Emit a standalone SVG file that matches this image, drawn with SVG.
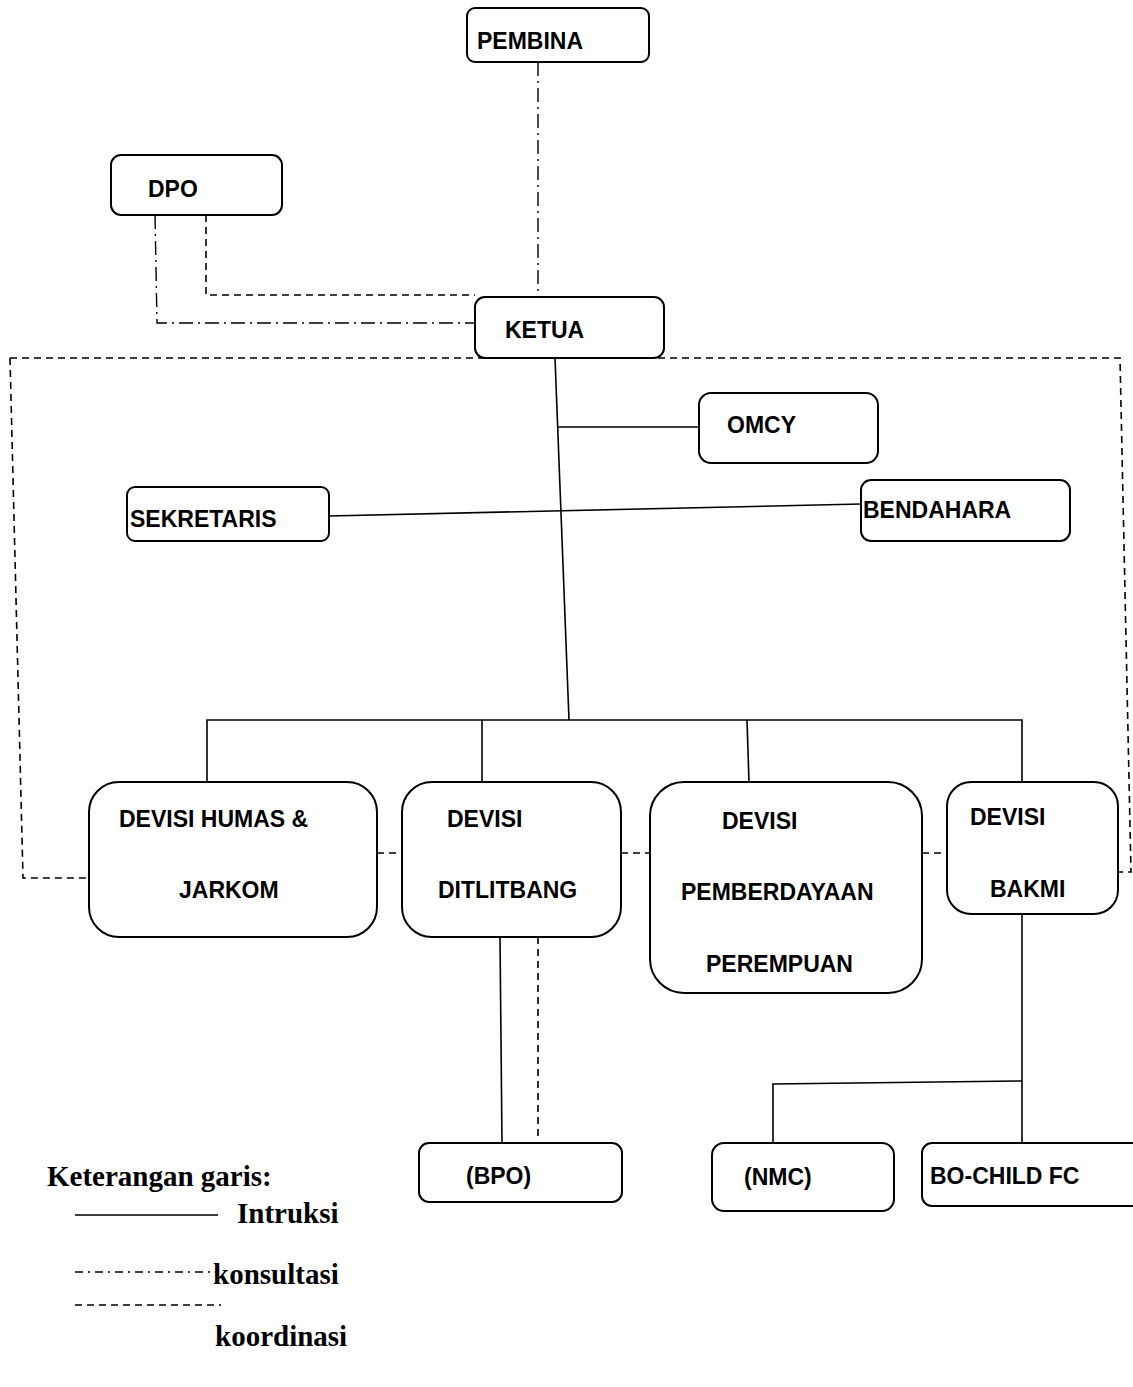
<svg xmlns="http://www.w3.org/2000/svg" width="1133" height="1387" viewBox="0 0 1133 1387">
<style>
.box{fill:#fff;stroke:#000;stroke-width:2}
.t{font-family:"Liberation Sans",Arial,sans-serif;font-weight:bold;font-size:23px;fill:#000}
.lg{font-family:"Liberation Serif","Times New Roman",serif;font-weight:bold;font-size:29px;fill:#000}
.solid{fill:none;stroke:#000;stroke-width:1.6}
.dash{fill:none;stroke:#000;stroke-width:1.6;stroke-dasharray:7 5}
.dd{fill:none;stroke:#000;stroke-width:1.4;stroke-dasharray:14 5 2 5}
</style>
<rect width="1133" height="1387" fill="#fff"/>
<g id="connectors">
<path class="dd" d="M538 62 V297"/>
<path class="dd" d="M155 215 L157 323 H475"/>
<path class="dash" d="M206 215 V295 H475"/>
<path class="dash" d="M10 358 H1120 L1131 872 H1118"/>
<path class="dash" d="M10 358 L23 878 H89"/>
<path class="solid" d="M555 358 L569 720"/>
<path class="solid" d="M557 427 H699"/>
<path class="solid" d="M329 516 L861 504"/>
<path class="solid" d="M207 781 V720 H1022 V782"/>
<path class="solid" d="M482 720 V782"/>
<path class="solid" d="M747 720 L749 782"/>
<path class="dash" d="M377 853 H402"/>
<path class="dash" d="M621 853 H650"/>
<path class="dash" d="M922 853 H947"/>
<path class="solid" d="M500 937 L502 1143"/>
<path class="dash" d="M538 937 V1137"/>
<path class="solid" d="M1022 914 V1143"/>
<path class="solid" d="M1022 1081 L773 1084 V1143"/>
</g>
<g id="pembina"><rect class="box" x="467" y="8" width="182" height="54" rx="8"/><text class="t" x="477" y="49">PEMBINA</text></g>
<g id="dpo"><rect class="box" x="111" y="155" width="171" height="60" rx="10"/><text class="t" x="148" y="197">DPO</text></g>
<g id="ketua"><rect class="box" x="475" y="297" width="189" height="61" rx="10"/><text class="t" x="505" y="338">KETUA</text></g>
<g id="omcy"><rect class="box" x="699" y="393" width="179" height="70" rx="12"/><text class="t" x="727" y="433">OMCY</text></g>
<g id="sekretaris"><rect class="box" x="127" y="487" width="202" height="54" rx="8"/><text class="t" x="130" y="527">SEKRETARIS</text></g>
<g id="bendahara"><rect class="box" x="861" y="480" width="209" height="61" rx="10"/><text class="t" x="863" y="518">BENDAHARA</text></g>
<g id="humas"><rect class="box" x="89" y="782" width="288" height="155" rx="30"/><text class="t" x="119" y="827">DEVISI HUMAS &amp;</text><text class="t" x="179" y="898">JARKOM</text></g>
<g id="ditlitbang"><rect class="box" x="402" y="782" width="219" height="155" rx="30"/><text class="t" x="447" y="827">DEVISI</text><text class="t" x="438" y="898">DITLITBANG</text></g>
<g id="pemberdayaan"><rect class="box" x="650" y="782" width="272" height="211" rx="34"/><text class="t" x="722" y="829">DEVISI</text><text class="t" x="681" y="900">PEMBERDAYAAN</text><text class="t" x="706" y="972">PEREMPUAN</text></g>
<g id="bakmi"><rect class="box" x="947" y="782" width="171" height="132" rx="24"/><text class="t" x="970" y="825">DEVISI</text><text class="t" x="990" y="897">BAKMI</text></g>
<g id="bpo"><rect class="box" x="419" y="1143" width="203" height="59" rx="10"/><text class="t" x="466" y="1184">(BPO)</text></g>
<g id="nmc"><rect class="box" x="712" y="1143" width="182" height="68" rx="12"/><text class="t" x="744" y="1185">(NMC)</text></g>
<g id="bochild"><rect class="box" x="922" y="1143" width="230" height="63" rx="10"/><text class="t" x="930" y="1184">BO-CHILD FC</text></g>
<g id="legend">
<text class="lg" x="47" y="1186">Keterangan garis:</text>
<path class="solid" d="M75 1215 H218"/>
<text class="lg" x="237" y="1223">Intruksi</text>
<path class="dd" style="stroke-dasharray:8 5 2 5" d="M75 1272 H218"/>
<text class="lg" x="213" y="1284">konsultasi</text>
<path class="dash" d="M75 1305 H221"/>
<text class="lg" x="215" y="1346">koordinasi</text>
</g>
</svg>
